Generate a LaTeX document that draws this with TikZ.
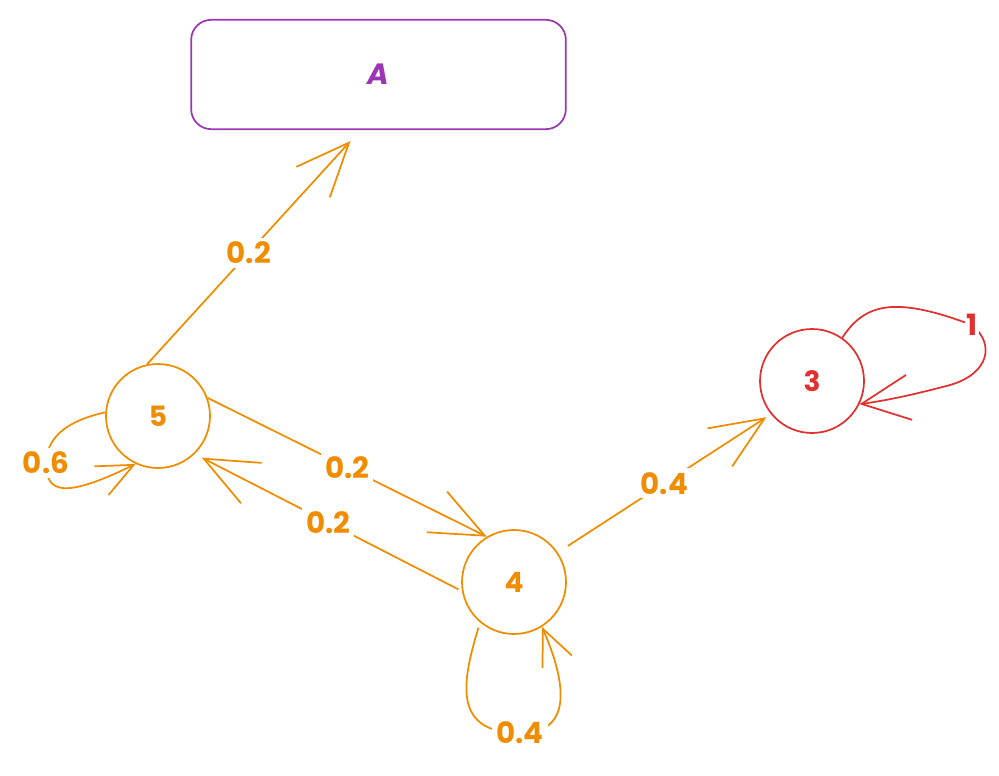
\documentclass[tikz,border=0pt]{standalone}
\usepackage{fontspec}
\setmainfont{Poppins}
\usetikzlibrary{arrows.meta}
\definecolor{orng}{HTML}{F08C00}
\definecolor{redc}{HTML}{E03131}
\definecolor{purp}{HTML}{9C36B5}
\tikzset{
  state/.style={circle,draw,line width=1.3pt,minimum size=78pt,inner sep=0pt,font=\fontsize{21}{24}\selectfont\bfseries},
  conn/.style={line width=1.3pt,-{Straight Barb[length=40pt,width=34pt,line width=1.3pt]}},
  loopconn/.style={line width=1.3pt,-{Straight Barb[length=27pt,width=24pt,line width=1.3pt]}},
  lbl/.style={fill=white,inner sep=3pt,font=\fontsize{22}{24}\selectfont\bfseries}
}
\begin{document}
\begin{tikzpicture}[x=0.75pt,y=-0.75pt]
\useasboundingbox (0,0) rectangle (999,775);
\node[draw=purp,text=purp,line width=1.3pt,rounded corners=15pt,minimum width=281pt,minimum height=82pt,font=\fontsize{22}{24}\selectfont\bfseries\itshape] (A) at (378.5,74.5) {A};
\node[state,draw=orng,text=orng] (n5) at (158,416) {5};
\node[state,draw=orng,text=orng] (n4) at (514,582) {4};
\node[state,draw=redc,text=redc] (n3) at (812,381) {3};

\draw[conn,orng] (n5.102) -- node[lbl,text=orng,pos=0.5]{0.2} ([shift={(-28,11)}]A.south);
\draw[conn,orng] (n5.20) -- node[lbl,text=orng,pos=0.5]{0.2} (n4.121);
\draw[conn,orng,shorten <=3pt,shorten >=6pt] (n4.190) -- node[lbl,text=orng,pos=0.5]{0.2} (n5.-46);
\draw[conn,orng,shorten <=9pt,shorten >=4pt] (n4.34) -- node[lbl,text=orng,pos=0.5]{0.4} (n3.219);

\draw[loopconn,orng] (n5.176) .. controls (62,422) and (47,440) .. (46,463) node[lbl,text=orng]{0.6}
  .. controls (46,492) and (62,500) .. (n5.245);
\draw[loopconn,orng,shorten <=4pt] (n4.230) .. controls (462,682) and (452,733) .. (520,733) node[lbl,text=orng]{0.4}
  .. controls (575,733) and (565,680) .. (n4.-58);
\draw[conn,redc,-{Straight Barb[length=36pt,width=34pt,line width=1.3pt]}] (n3.55) .. controls (865,303) and (895,296) .. (972,325) node[lbl,text=redc,inner sep=1pt]{1}
  .. controls (996,345) and (988,374) .. (950,385) .. controls (920,393) and (890,400) .. (n3.-26);
\end{tikzpicture}
\end{document}
